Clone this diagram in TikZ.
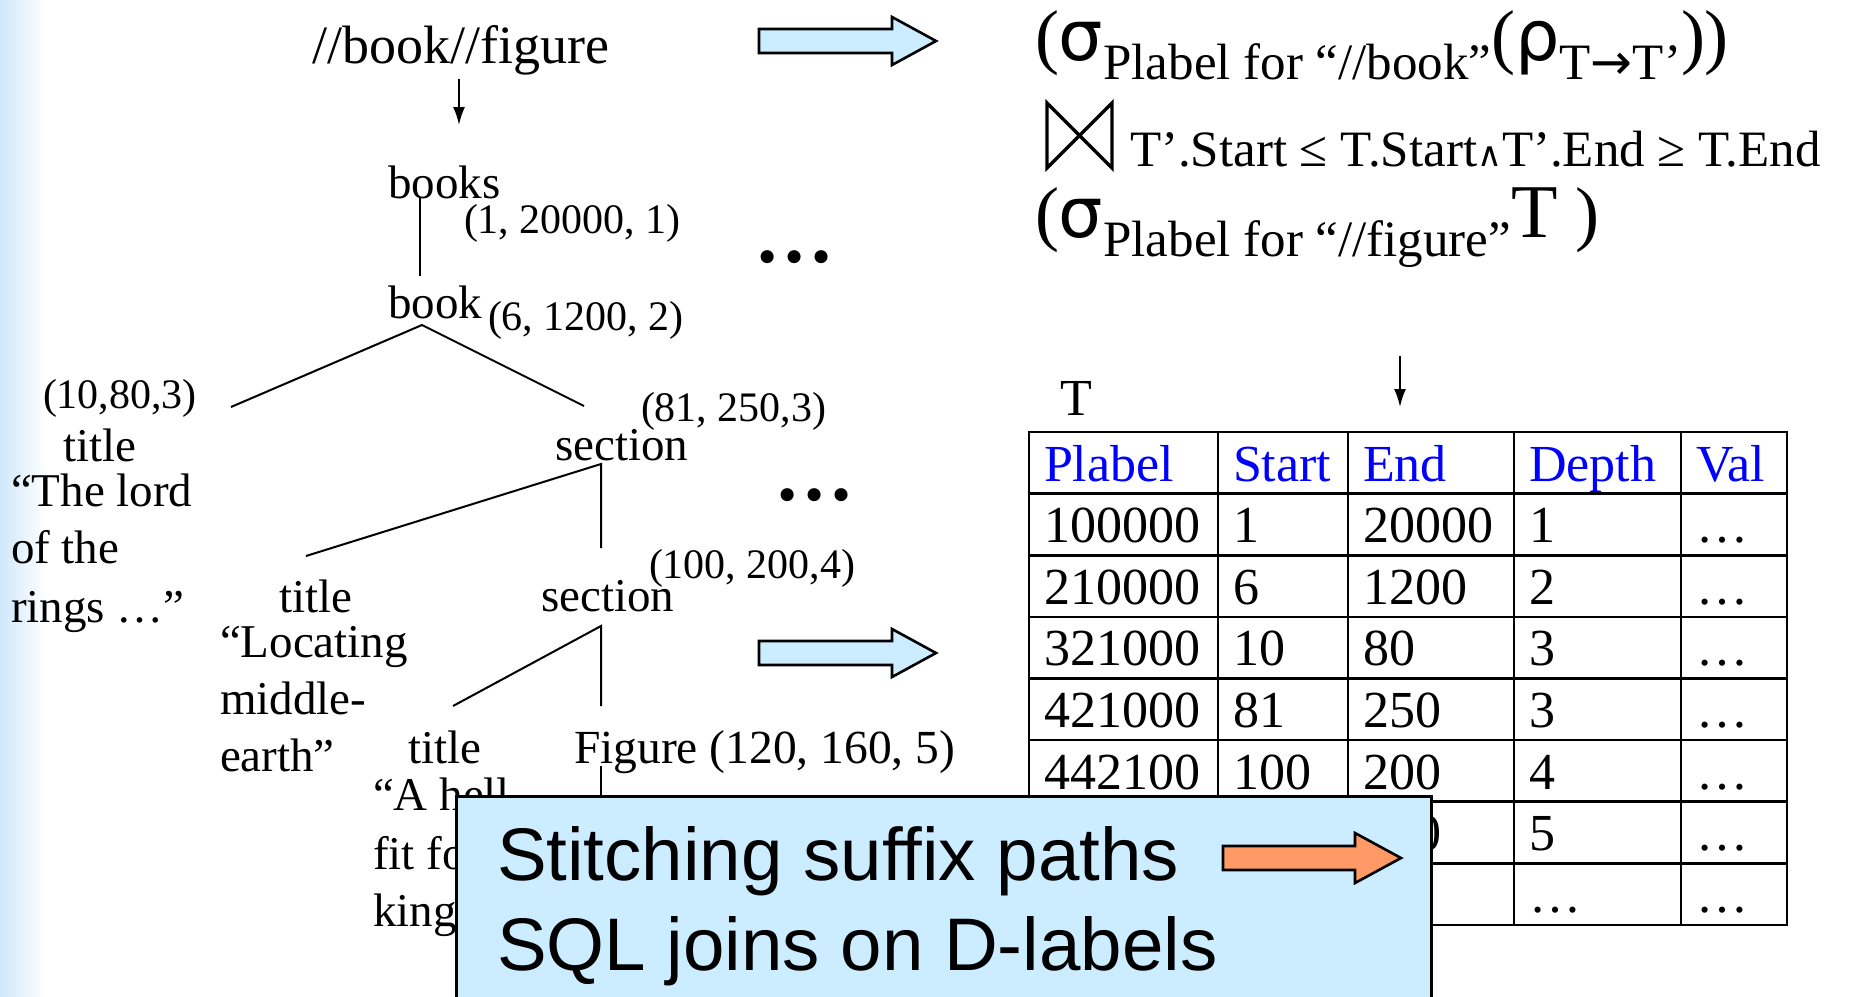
\documentclass[tikz,border=0pt]{standalone}
\usepackage{fontspec}
\setmainfont{Liberation Serif}
\newfontfamily\sansf{Liberation Sans}
\newfontfamily\dvs{DejaVu Sans}
\usetikzlibrary{arrows.meta}
\definecolor{boxblue}{RGB}{204,236,255}
\definecolor{arrorange}{RGB}{255,153,102}
\definecolor{gradblue}{RGB}{208,232,251}
\definecolor{hdrblue}{RGB}{0,0,255}
\newcommand\fsz[1]{\fontsize{#1}{#1}\selectfont}
\newcommand\lsub[1]{\raisebox{-19pt}{\fsz{51}#1}}
\newcommand\gk[1]{{\dvs\fsz{70}#1}}
\begin{document}
\begin{tikzpicture}[x=1pt,y=-1pt,
  txt/.style={anchor=base west,inner sep=0pt,outer sep=0pt,font=\fsz{47}},
  crd/.style={txt,font=\fsz{42}},
  edge/.style={line width=2pt},
  hollow/.style={draw=black,line width=2.6pt,fill=boxblue,line join=miter},
  tline/.style={line width=2.6pt},
  cell/.style={txt,font=\fsz{52}},
  hdr/.style={cell,text=hdrblue},
  vArrow/.style={line width=2pt,-{Latex[length=18pt,width=12pt]}}
]
\useasboundingbox (0,0) rectangle (1849,996);
\fill[white] (0,0) rectangle (1849,996);
\shade[left color=gradblue,right color=white] (0,0) rectangle (46,996);

% ---- query and tree ----
\node[txt,font=\fsz{54}] (query) at (312,63) {//book//figure};
\coordinate (qbot) at (459,79);
\coordinate (qarr) at (459,125);
\draw[vArrow] (qbot) -- (qarr);

\node[txt] (books) at (388,198) {books};
\node[crd] (cbooks) at (464,233) {(1, 20000, 1)};
\node[txt] (book) at (388,318) {book};
\node[crd] (cbook) at (488,330) {(6, 1200, 2)};
\node[txt,font=\fsz{80}\bfseries] (dotsA) at (754,262) {…};

\node[crd] (ctitleA) at (43,408) {(10,80,3)};
\node[txt] (titleA) at (63,461) {title};
\node[txt] (qA1) at (11,506) {“The lord};
\node[txt] (qA2) at (11,563) {of the};
\node[txt] (qA3) at (11,622) {rings …”};

\node[crd] (csecA) at (641,421) {(81, 250,3)};
\node[txt] (secA) at (555,460) {section};
\node[txt,font=\fsz{80}\bfseries] (dotsB) at (774,500) {…};

\node[txt] (titleB) at (279,612) {title};
\node[txt] (qB1) at (220,657) {“Locating};
\node[txt] (qB2) at (220,714) {middle-};
\node[txt] (qB3) at (220,771) {earth”};

\node[crd] (csecB) at (649,578) {(100, 200,4)};
\node[txt] (secB) at (541,611) {section};

\node[txt] (titleC) at (408,763) {title};
\node[txt] (qC1) at (373,810) {“A hell};
\node[txt] (qC2) at (373,869) {fit for a};
\node[txt] (qC3) at (373,926) {king”};
\node[txt,font=\fsz{47.5}] (fig) at (574,763) {Figure (120, 160, 5)};

\coordinate (booksbot) at (420,197);
\coordinate (booktop) at (420,276);
\coordinate (bookapex) at (422,325);
\coordinate (titleAtop) at (231,407);
\coordinate (secAtop) at (584,406);
\coordinate (secAapex) at (601,464);
\coordinate (titleBtop) at (306,556);
\coordinate (secBtop) at (601,548);
\coordinate (secBapex) at (601,626);
\coordinate (titleCtop) at (453,706);
\coordinate (figtop) at (601,706);
\coordinate (figbot) at (601,766);
\coordinate (figdown) at (601,805);
\draw[edge] (booksbot) -- (booktop);
\draw[edge] (titleAtop) -- (bookapex) -- (secAtop);
\draw[edge] (titleBtop) -- (secAapex) -- (secBtop);
\draw[edge] (titleCtop) -- (secBapex) -- (figtop);
\draw[edge] (figbot) -- (figdown);

% ---- hollow arrows ----
\draw[hollow] (759,29) -- (892,29) -- (892,17) -- (936,41) -- (892,65) -- (892,53) -- (759,53) -- cycle;
\draw[hollow] (759,641) -- (892,641) -- (892,629) -- (936,653) -- (892,677) -- (892,665) -- (759,665) -- cycle;

% ---- algebra expression ----
\node[txt,font=\fsz{72}] (exprA) at (1035,60) {(\gk{σ}\lsub{Plabel for “//book”}(\gk{ρ}\lsub{T{\dvs\fsz{50}→}T’}))};
\draw[line width=3.3pt,line join=miter] (1047,103) -- (1112,168) -- (1112,103) -- (1047,168) -- cycle;
\node[txt,font=\fsz{51}] (exprB) at (1130,166) {T’.Start ≤ T.Start{\dvs\fsz{34}∧}T’.End ≥ T.End};
\node[txt,font=\fsz{72}] (exprC) at (1035,237) {(\gk{σ}\lsub{Plabel for “//figure”}{\fsz{76}T} )};

% ---- table ----
\node[cell] (tname) at (1060,415) {T};
\coordinate (tarrtop) at (1400,356);
\coordinate (tarrbot) at (1400,407);
\draw[vArrow] (tarrtop) -- (tarrbot);
\foreach \x in {1029,1218,1348,1514,1681,1787}
  \draw[tline] (\x,430.7) -- (\x,926.3);
\foreach \i in {0,...,8}
  \draw[tline] (1027.7,{432+61.625*\i}) -- (1788.3,{432+61.625*\i});
\node[hdr] (h1) at (1044,481) {Plabel};
\node[hdr] (h2) at (1233,481) {Start};
\node[hdr] (h3) at (1363,481) {End};
\node[hdr] (h4) at (1529,481) {Depth};
\node[hdr] (h5) at (1696,481) {Val};
\foreach \r/\a/\b/\c/\d in {1/100000/1/20000/1, 2/210000/6/1200/2, 3/321000/10/80/3, 4/421000/81/250/3, 5/442100/100/200/4} {
  \node[cell] (r\r-1) at (1044,{481+61.625*\r}) {\a};
  \node[cell] (r\r-2) at (1233,{481+61.625*\r}) {\b};
  \node[cell] (r\r-3) at (1363,{481+61.625*\r}) {\c};
  \node[cell] (r\r-4) at (1529,{481+61.625*\r}) {\d};
  \node[cell] (r\r-5) at (1696,{481+61.625*\r}) {…};
}
\node[cell] (r6-3) at (1363,850.75) {160};
\node[cell] (r6-4) at (1529,850.75) {5};
\node[cell] (r6-5) at (1696,850.75) {…};
\node[cell] (r7-4) at (1529,912.4) {…};
\node[cell] (r7-5) at (1696,912.4) {…};

% ---- callout box ----
\draw[line width=3pt,fill=boxblue] (456,796) rectangle (1431,1012);
\node[txt,font=\sansf\fsz{74.5}] (stA) at (497,880) {Stitching suffix paths};
\node[txt,font=\sansf\fsz{74.5}] (stB) at (497,970) {SQL joins on D-labels};
\draw[line width=2.6pt,fill=arrorange,line join=miter] (1223,846) -- (1355,846) -- (1355,833) -- (1401,858) -- (1355,883) -- (1355,870) -- (1223,870) -- cycle;
\end{tikzpicture}
\end{document}
